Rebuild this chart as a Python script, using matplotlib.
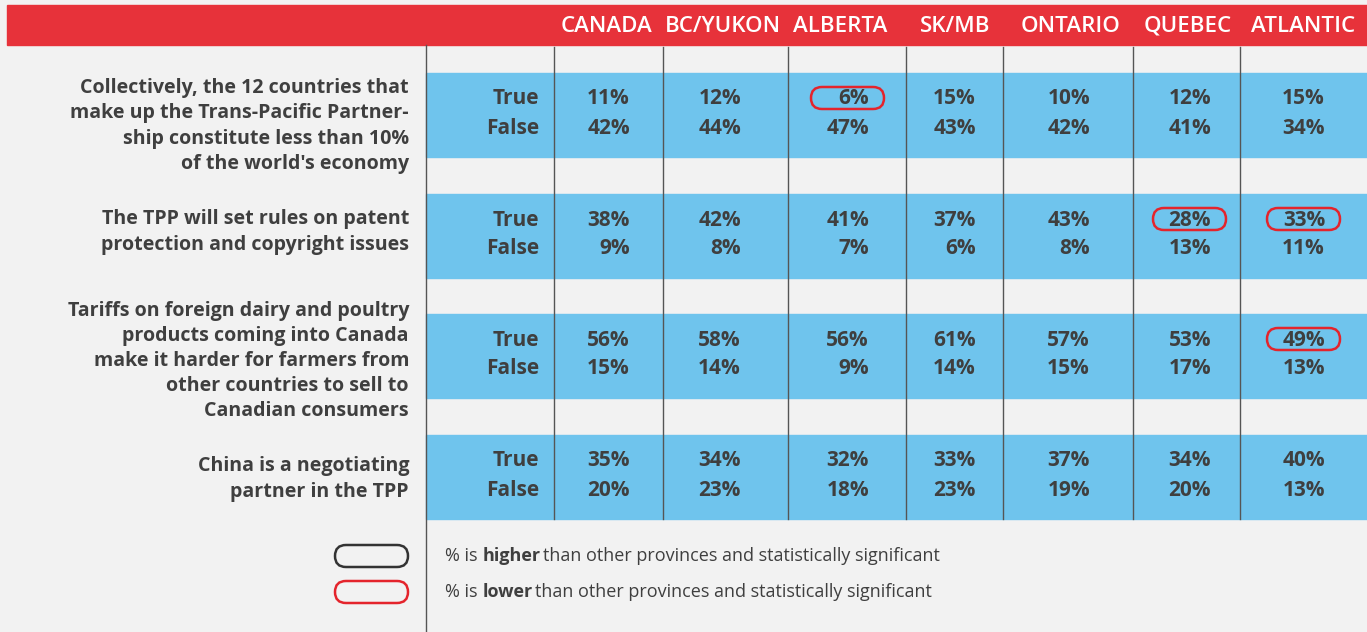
import matplotlib
matplotlib.use("Agg")
import matplotlib.pyplot as plt
from matplotlib.patches import Rectangle, FancyBboxPatch

# data
regions = ["CANADA", "BC/YUKON", "ALBERTA", "SK/MB", "ONTARIO", "QUEBEC", "ATLANTIC"]
questions = [
    "Collectively, the 12 countries that\nmake up the Trans-Pacific Partner-\nship constitute less than 10%\nof the world's economy",
    "The TPP will set rules on patent\nprotection and copyright issues",
    "Tariffs on foreign dairy and poultry\nproducts coming into Canada\nmake it harder for farmers from\nother countries to sell to\nCanadian consumers",
    "China is a negotiating\npartner in the TPP",
]
true_pct = [
    [11, 12, 6, 15, 10, 12, 15],
    [38, 42, 41, 37, 43, 28, 33],
    [56, 58, 56, 61, 57, 53, 49],
    [35, 34, 32, 33, 37, 34, 40],
]
false_pct = [
    [42, 44, 47, 43, 42, 41, 34],
    [9, 8, 7, 6, 8, 13, 11],
    [15, 14, 9, 14, 15, 17, 13],
    [20, 23, 18, 23, 19, 20, 13],
]
# (question, region) cells whose "True" value is significantly lower
lower_cells = [(0, 2), (1, 5), (1, 6), (2, 6)]
higher_cells = []

# layout (pixel units)
W, H = 1367, 632
red = "#e7323a"
blue = "#6fc4ed"
bg = "#f2f2f2"
txt = "#3f3f3f"
font = "Open Sans"

col_lines = [554, 663, 788, 906, 1003, 1133, 1240]
head_x = [607, 723, 840, 955, 1071, 1188, 1303]
val_right = [630, 741, 869, 976, 1090, 1211, 1325]
band_top = [73, 194, 314, 435]
band_h = 84
q_dy = [11, -4, 5, 2]

fig = plt.figure(figsize=(W / 100, H / 100), dpi=100)
fig.patch.set_facecolor(bg)
ax = fig.add_axes([0, 0, 1, 1])
ax.set_xlim(0, W)
ax.set_ylim(H, 0)
ax.axis("off")

# header band
ax.add_patch(Rectangle((7, 5), W - 7, 40, color=red, zorder=1))
for x, r in zip(head_x, regions):
    ax.text(x, 26, r, color="white", fontsize=16, fontfamily=font,
            fontweight="semibold", ha="center", va="center", zorder=3)

# blue bands
for t in band_top:
    ax.add_patch(Rectangle((426, t), W - 426, band_h, color=blue, zorder=1))

# grid lines
ax.plot([426, 426], [45, H], color="#555555", lw=1, zorder=2)
for x in col_lines:
    ax.plot([x, x], [47, 519], color="#555555", lw=1, zorder=2)

# rows
for qi, q in enumerate(questions):
    t = band_top[qi]
    yt = t + 26
    yf = t + 55
    ax.text(409, t + band_h / 2 + q_dy[qi], q, ha="right", va="center", color=txt,
            fontsize=14.1, fontfamily=font, fontweight="bold", linespacing=1.34,
            multialignment="right")
    for y, lab, vals in [(yt, "True", true_pct[qi]), (yf, "False", false_pct[qi])]:
        ax.text(539, y, lab, ha="right", va="center", color=txt, fontsize=15,
                fontfamily=font, fontweight="bold")
        for ci in range(len(regions)):
            ax.text(val_right[ci], y, f"{vals[ci]}%", ha="right", va="center",
                    color=txt, fontsize=15, fontfamily=font, fontweight="bold")

def pill(x, y, c):
    ax.add_patch(FancyBboxPatch((x, y), 73, 22, boxstyle="round,pad=0,rounding_size=11",
                                fill=False, ec=c, lw=1.8, zorder=4))

for qi, ci in lower_cells:
    pill(val_right[ci] - 58, band_top[qi] + 14, "#e4242c")
for qi, ci in higher_cells:
    pill(val_right[ci] - 58, band_top[qi] + 14, "#333333")

# legend
pill(335, 545, "#333333")
pill(335, 581, "#e4242c")
renderer = fig.canvas.get_renderer()
for y, word in [(556, "higher"), (592, "lower")]:
    x = 445
    for part, w in [("% is ", "normal"), (word, "bold"),
                    ("\u2009than other provinces and statistically significant", "normal")]:
        tt = ax.text(x, y, part, ha="left", va="center", color=txt, fontsize=13,
                     fontfamily=font, fontweight=w)
        bb = tt.get_window_extent(renderer=renderer)
        x += bb.width

fig.savefig("out.png", dpi=100, facecolor=bg)
